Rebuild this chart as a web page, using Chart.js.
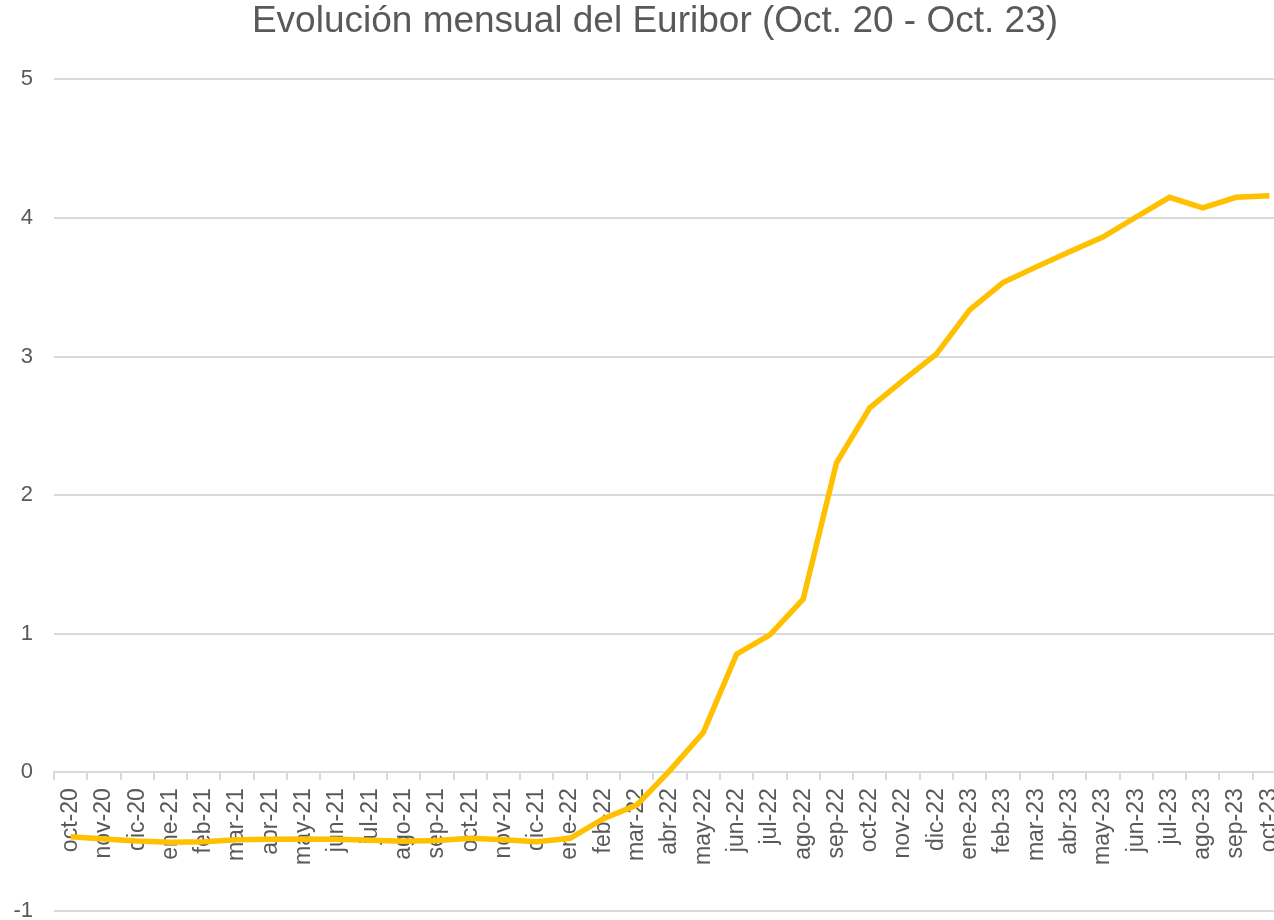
<!DOCTYPE html>
<html>
<head>
<meta charset="utf-8">
<script src="https://cdn.jsdelivr.net/npm/chart.js@4"></script>
<style>
    html, body { margin: 0; padding: 0; background: #fff; overflow: hidden; }
    #wrap { width: 1310px; height: 945px; }
</style>
</head>
<body>
<div id="wrap"><canvas id="euriborChart"></canvas></div>
<script>
const months = ['oct-20', 'nov-20', 'dic-20', 'ene-21', 'feb-21', 'mar-21', 'abr-21', 'may-21', 'jun-21',
    'jul-21', 'ago-21', 'sep-21', 'oct-21', 'nov-21', 'dic-21', 'ene-22', 'feb-22', 'mar-22', 'abr-22',
    'may-22', 'jun-22', 'jul-22', 'ago-22', 'sep-22', 'oct-22', 'nov-22', 'dic-22', 'ene-23', 'feb-23',
    'mar-23', 'abr-23', 'may-23', 'jun-23', 'jul-23', 'ago-23', 'sep-23', 'oct-23'];
const euribor = [-0.466, -0.481, -0.497, -0.505, -0.501, -0.487, -0.484, -0.481, -0.484,
    -0.491, -0.498, -0.492, -0.477, -0.487, -0.502, -0.477, -0.335, -0.237, 0.013,
    0.287, 0.852, 0.992, 1.249, 2.233, 2.629, 2.828, 3.018, 3.337, 3.534,
    3.647, 3.757, 3.862, 4.007, 4.149, 4.073, 4.149, 4.160];
const yTicks = [-1, 0, 1, 2, 3, 4, 5];

document.addEventListener('DOMContentLoaded', function () {
    const ctx = document.getElementById('euriborChart').getContext('2d');
    const grey = '#595959';
    const fontFamily = 'Liberation Sans, Arial, sans-serif';

    new Chart(ctx, {
        type: 'line',
        data: {
            labels: months,
            datasets: [{
                label: 'Euribor',
                data: euribor,
                borderColor: '#FFC000',
                borderWidth: 5.5,
                pointRadius: 0,
                tension: 0,
                fill: false
            }]
        },
        options: {
            responsive: true,
            maintainAspectRatio: false,
            animation: false,
            layout: { padding: { left: 0, right: 0, top: 0, bottom: 8 } },
            plugins: {
                legend: { display: false },
                tooltip: { enabled: false },
                title: {
                    display: true,
                    text: 'Evolución mensual del Euribor (Oct. 20 - Oct. 23)',
                    color: grey,
                    font: { family: fontFamily, size: 37, weight: 'normal' },
                    padding: { top: 0, bottom: 35 }
                }
            },
            scales: {
                x: {
                    position: { y: 0 },
                    offset: true,
                    grid: {
                        offset: true,
                        drawOnChartArea: false,
                        drawTicks: true,
                        tickLength: 7,
                        color: '#d9d9d9',
                        lineWidth: 2
                    },
                    border: { color: '#d9d9d9', width: 2 },
                    ticks: {
                        color: grey,
                        font: { family: fontFamily, size: 23 },
                        minRotation: 90,
                        maxRotation: 90,
                        autoSkip: false,
                        padding: 9
                    }
                },
                y: {
                    min: -1,
                    max: 5,
                    afterBuildTicks: function (axis) {
                        axis.ticks = yTicks.map(function (v) { return { value: v }; });
                    },
                    afterFit: function (axis) {
                        axis.width = 54;
                    },
                    grid: { color: '#d9d9d9', lineWidth: 2, drawTicks: false },
                    border: { display: false },
                    ticks: {
                        color: grey,
                        font: { family: fontFamily, size: 22 },
                        padding: 21
                    }
                },
                // empty right-hand spacer so the title centres like the original
                spacer: {
                    type: 'linear',
                    position: 'right',
                    display: true,
                    grid: { display: false },
                    border: { display: false },
                    ticks: { display: false },
                    afterFit: function (axis) {
                        axis.width = 24;
                    }
                }
            }
        }
    });
});
</script>
</body>
</html>
